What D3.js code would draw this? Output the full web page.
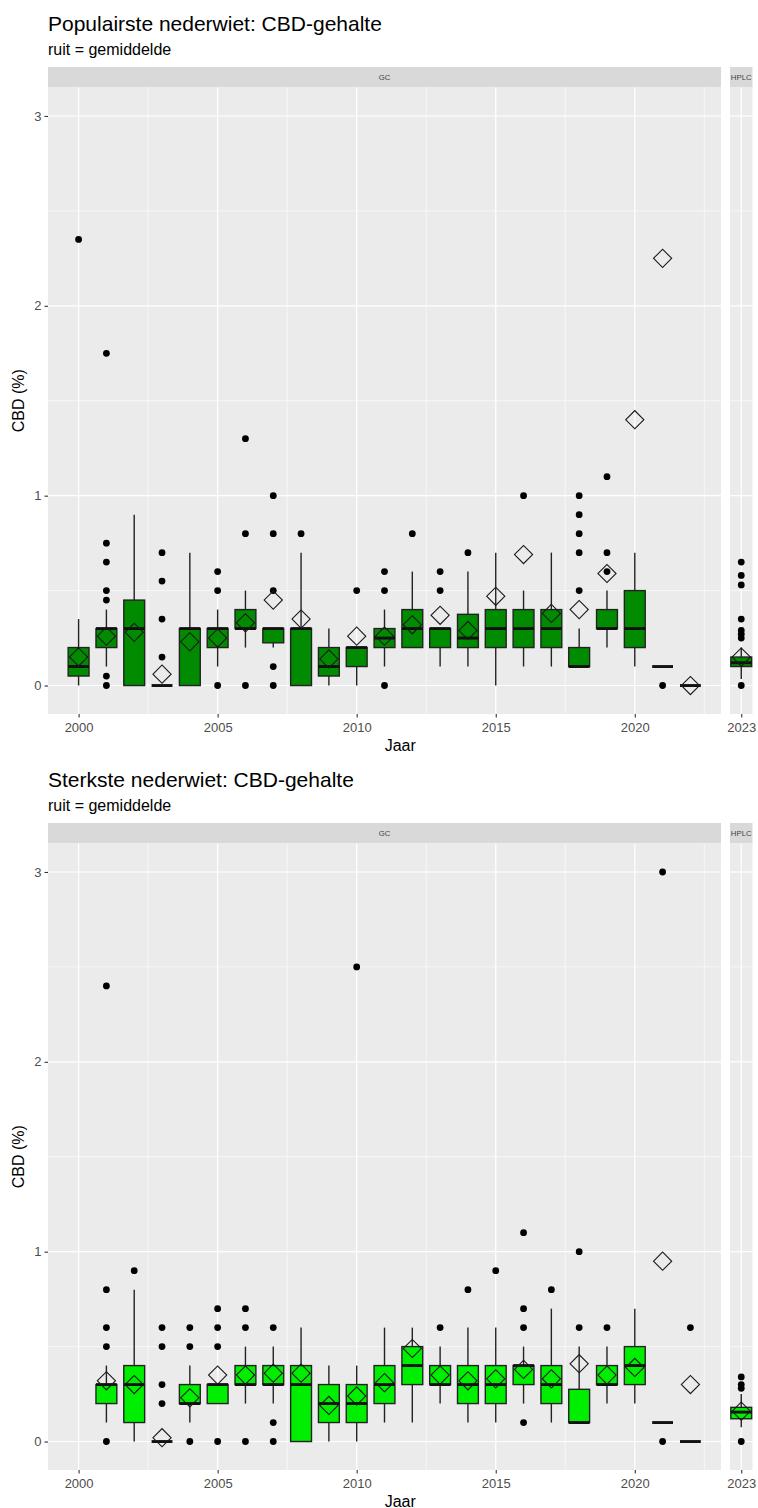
<!DOCTYPE html>
<html>
<head>
<meta charset="utf-8">
<script src="https://cdn.jsdelivr.net/npm/d3@7"></script>
<style>
  body { margin: 0; background: #fff; }
  svg { display: block; font-family: "Liberation Sans", Arial, sans-serif; }
</style>
</head>
<body>
<div id="chart"></div>
<script>
// ---- data ----
const facets = ["GC", "HPLC"];
const hplcYears = [2023];

// populairste nederwiet
const popYears = [2000, 2001, 2002, 2003, 2004, 2005, 2006, 2007, 2008, 2009, 2010, 2011,
                  2012, 2013, 2014, 2015, 2016, 2017, 2018, 2019, 2020, 2021, 2022, 2023];
const popQ1   = [0.05, 0.2, 0, 0, 0, 0.2, 0.3, 0.225, 0, 0.05, 0.1, 0.2,
                 0.2, 0.2, 0.2, 0.2, 0.2, 0.2, 0.1, 0.3, 0.2, 0.1, 0, 0.1];
const popMed  = [0.1, 0.3, 0.3, 0, 0.3, 0.3, 0.3, 0.3, 0.3, 0.1, 0.2, 0.25,
                 0.3, 0.3, 0.25, 0.3, 0.3, 0.3, 0.1, 0.3, 0.3, 0.1, 0, 0.12];
const popQ3   = [0.2, 0.3, 0.45, 0, 0.3, 0.3, 0.4, 0.3, 0.3, 0.2, 0.2, 0.3,
                 0.4, 0.3, 0.375, 0.4, 0.4, 0.4, 0.2, 0.4, 0.5, 0.1, 0, 0.15];
const popLo   = [0, 0.1, 0, 0, 0, 0.1, 0.2, 0.2, 0, 0, 0, 0.1,
                 0.2, 0.1, 0.1, 0, 0.1, 0.1, 0.1, 0.2, 0.1, 0.1, 0, 0.035];
const popHi   = [0.35, 0.4, 0.9, 0, 0.7, 0.4, 0.5, 0.3, 0.7, 0.3, 0.2, 0.4,
                 0.6, 0.3, 0.6, 0.7, 0.5, 0.7, 0.3, 0.5, 0.7, 0.1, 0, 0.2];
const popMean = [0.15, 0.26, 0.28, 0.06, 0.23, 0.25, 0.33, 0.45, 0.35, 0.14, 0.26, 0.26,
                 0.32, 0.37, 0.29, 0.47, 0.69, 0.38, 0.40, 0.59, 1.40, 2.25, 0, 0.15];
const popOut  = [[2.35], [0, 0.05, 0.45, 0.5, 0.65, 0.75, 1.75], [], [0.15, 0.35, 0.55, 0.7], [],
                 [0, 0.5, 0.6], [0, 0.8, 1.3], [0, 0.1, 0.5, 0.8, 1.0], [0.8], [], [0.5],
                 [0, 0.5, 0.6], [0.8], [0.5, 0.6], [0.7], [], [1.0], [], [0.5, 0.7, 0.8, 0.9, 1.0],
                 [0.6, 0.7, 1.1], [], [0], [], [0, 0.25, 0.27, 0.29, 0.35, 0.53, 0.58, 0.65]];

// sterkste nederwiet
const sterkYears = [2001, 2002, 2003, 2004, 2005, 2006, 2007, 2008, 2009, 2010, 2011,
                    2012, 2013, 2014, 2015, 2016, 2017, 2018, 2019, 2020, 2021, 2022, 2023];
const sterkQ1   = [0.2, 0.1, 0, 0.2, 0.2, 0.3, 0.3, 0, 0.1, 0.1, 0.2,
                   0.3, 0.3, 0.2, 0.2, 0.3, 0.2, 0.1, 0.3, 0.3, 0.1, 0, 0.12];
const sterkMed  = [0.3, 0.3, 0, 0.2, 0.3, 0.3, 0.3, 0.3, 0.2, 0.2, 0.3,
                   0.4, 0.3, 0.3, 0.3, 0.4, 0.3, 0.1, 0.3, 0.4, 0.1, 0, 0.155];
const sterkQ3   = [0.3, 0.4, 0, 0.3, 0.3, 0.4, 0.4, 0.4, 0.3, 0.3, 0.4,
                   0.5, 0.4, 0.4, 0.4, 0.4, 0.4, 0.275, 0.4, 0.5, 0.1, 0, 0.18];
const sterkLo   = [0.1, 0, 0, 0.1, 0.2, 0.2, 0.2, 0, 0, 0, 0.1,
                   0.1, 0.2, 0.1, 0.1, 0.2, 0.1, 0.1, 0.2, 0.2, 0.1, 0, 0.075];
const sterkHi   = [0.4, 0.8, 0, 0.4, 0.3, 0.5, 0.5, 0.6, 0.4, 0.4, 0.6,
                   0.6, 0.5, 0.6, 0.6, 0.5, 0.7, 0.5, 0.5, 0.7, 0.1, 0, 0.25];
const sterkMean = [0.32, 0.30, 0.02, 0.23, 0.35, 0.35, 0.36, 0.36, 0.19, 0.24, 0.31,
                   0.49, 0.35, 0.32, 0.33, 0.38, 0.33, 0.41, 0.35, 0.39, 0.95, 0.30, 0.16];
const sterkOut  = [[0, 0.5, 0.6, 0.8, 2.4], [0.9], [0.2, 0.3, 0.5, 0.6], [0, 0.5, 0.6],
                   [0, 0.5, 0.6, 0.7], [0, 0.6, 0.7], [0, 0.1, 0.6], [], [], [2.5], [],
                   [], [0.6], [0.8], [0.9], [0.1, 0.6, 0.7, 1.1], [0.8], [0.6, 1.0], [0.6], [],
                   [0, 3.0], [0.6], [0, 0.28, 0.30, 0.34]];

const yTicks = [0, 1, 2, 3];
const gcTicks = [2000, 2005, 2010, 2015, 2020];

// ---- layout ----
const W = 758, H = 1508;
const left = 48, gcRight = 721, hLeft = 730, hRight = 752.5;
const stripTop = 67, stripH = 20.5;
const panelTop = stripTop + stripH, panelBottom = 714;

const svg = d3.select("#chart").append("svg")
    .attr("width", W)
    .attr("height", H);

function buildRows(years, q1, med, q3, lo, hi, mean, out) {
    return years.map((yr, i) => ({
        year: yr, facet: hplcYears.includes(yr) ? facets[1] : facets[0],
        q1: q1[i], med: med[i], q3: q3[i], lo: lo[i], hi: hi[i], mean: mean[i], out: out[i]
    }));
}

function drawChart(offset, title, rows, fill) {
    const g = svg.append("g").attr("transform", `translate(0,${offset})`);

    g.append("text").attr("x", left).attr("y", 30.5)
        .attr("font-size", 21).attr("fill", "#000").text(title);
    g.append("text").attr("x", left).attr("y", 54.5)
        .attr("font-size", 16).attr("fill", "#000").text("ruit = gemiddelde");

    const y = d3.scaleLinear().domain([-0.15, 3.15]).range([panelBottom, panelTop]);
    const xs = {
        GC: d3.scaleLinear().domain([1998.9, 2023.1]).range([left, gcRight]),
        HPLC: d3.scaleLinear().domain([2022.595, 2023.405]).range([hLeft, hRight])
    };
    const facetTicks = { GC: gcTicks, HPLC: hplcYears };
    const facetMinor = { GC: [2002.5, 2007.5, 2012.5, 2017.5, 2022.5], HPLC: [] };

    facets.forEach(f => {
        const x = xs[f];
        const [x0, x1] = x.range();

        // strip
        g.append("rect").attr("x", x0).attr("y", stripTop)
            .attr("width", x1 - x0).attr("height", stripH).attr("fill", "#D9D9D9");
        g.append("text").attr("x", (x0 + x1) / 2).attr("y", stripTop + stripH / 2 + 2.8)
            .attr("text-anchor", "middle").attr("font-size", 7.8).attr("fill", "#444")
            .text(f);

        // panel background + grid
        g.append("rect").attr("x", x0).attr("y", panelTop)
            .attr("width", x1 - x0).attr("height", panelBottom - panelTop).attr("fill", "#EBEBEB");
        const grid = g.append("g").attr("stroke", "#fff");
        grid.selectAll(".ymin").data([0.5, 1.5, 2.5]).enter().append("line")
            .attr("x1", x0).attr("x2", x1).attr("y1", d => y(d)).attr("y2", d => y(d))
            .attr("stroke-width", 0.6);
        grid.selectAll(".xmin").data(facetMinor[f]).enter().append("line")
            .attr("y1", panelTop).attr("y2", panelBottom).attr("x1", d => x(d)).attr("x2", d => x(d))
            .attr("stroke-width", 0.6);
        grid.selectAll(".ymaj").data(yTicks).enter().append("line")
            .attr("x1", x0).attr("x2", x1).attr("y1", d => y(d)).attr("y2", d => y(d))
            .attr("stroke-width", 1.2);
        grid.selectAll(".xmaj").data(facetTicks[f]).enter().append("line")
            .attr("y1", panelTop).attr("y2", panelBottom).attr("x1", d => x(d)).attr("x2", d => x(d))
            .attr("stroke-width", 1.2);

        // x axis
        const xa = g.append("g").attr("transform", `translate(0,${panelBottom})`)
            .call(d3.axisBottom(x).tickValues(facetTicks[f]).tickFormat(d3.format("d"))
                .tickSize(3.5).tickPadding(5));
        xa.select(".domain").remove();
        xa.selectAll("line").attr("stroke", "#333").attr("stroke-width", 1.1);
        xa.selectAll("text").attr("font-size", 13).attr("fill", "#4D4D4D")
            .attr("font-family", "Liberation Sans, Arial, sans-serif");

        // boxes
        const data = rows.filter(d => d.facet === f);
        const bw = x(0.75) - x(0);
        const box = g.append("g").selectAll("g").data(data).enter().append("g");

        box.selectAll("circle").data(d => d.out.map(v => ({ year: d.year, v }))).enter()
            .append("circle")
            .attr("cx", d => x(d.year)).attr("cy", d => y(d.v)).attr("r", 3.4).attr("fill", "#000");

        box.append("line").attr("x1", d => x(d.year)).attr("x2", d => x(d.year))
            .attr("y1", d => y(d.q3)).attr("y2", d => y(d.hi))
            .attr("stroke", "#222").attr("stroke-width", 1.4);
        box.append("line").attr("x1", d => x(d.year)).attr("x2", d => x(d.year))
            .attr("y1", d => y(d.q1)).attr("y2", d => y(d.lo))
            .attr("stroke", "#222").attr("stroke-width", 1.4);
        box.append("rect")
            .attr("x", d => x(d.year) - bw / 2).attr("width", bw)
            .attr("y", d => y(d.q3)).attr("height", d => y(d.q1) - y(d.q3))
            .attr("fill", fill).attr("stroke", "#222").attr("stroke-width", 1.4);
        box.append("line")
            .attr("x1", d => x(d.year) - bw / 2).attr("x2", d => x(d.year) + bw / 2)
            .attr("y1", d => y(d.med)).attr("y2", d => y(d.med))
            .attr("stroke", "#111").attr("stroke-width", 2.9);

        // means as open diamonds
        g.append("g").selectAll("path").data(data).enter().append("path")
            .attr("d", d3.symbol(d3.symbolSquare, 165)())
            .attr("transform", d => `translate(${x(d.year)},${y(d.mean)}) rotate(45)`)
            .attr("fill", "none").attr("stroke", "#1a1a1a").attr("stroke-width", 1.1);
    });

    // y axis
    const ya = g.append("g").attr("transform", `translate(${left},0)`)
        .call(d3.axisLeft(y).tickValues(yTicks).tickFormat(d3.format("d"))
            .tickSize(3.5).tickPadding(3));
    ya.select(".domain").remove();
    ya.selectAll("line").attr("stroke", "#333").attr("stroke-width", 1.1);
    ya.selectAll("text").attr("font-size", 13).attr("fill", "#4D4D4D")
        .attr("font-family", "Liberation Sans, Arial, sans-serif");

    // axis titles
    g.append("text").attr("x", (left + hRight) / 2).attr("y", 750.5)
        .attr("text-anchor", "middle").attr("font-size", 16).text("Jaar");
    g.append("text")
        .attr("transform", `translate(24,${(panelTop + panelBottom) / 2}) rotate(-90)`)
        .attr("text-anchor", "middle").attr("font-size", 16).text("CBD (%)");
}

drawChart(0, "Populairste nederwiet: CBD-gehalte",
    buildRows(popYears, popQ1, popMed, popQ3, popLo, popHi, popMean, popOut), "#008B00");
drawChart(756, "Sterkste nederwiet: CBD-gehalte",
    buildRows(sterkYears, sterkQ1, sterkMed, sterkQ3, sterkLo, sterkHi, sterkMean, sterkOut), "#00EE00");
</script>
</body>
</html>
